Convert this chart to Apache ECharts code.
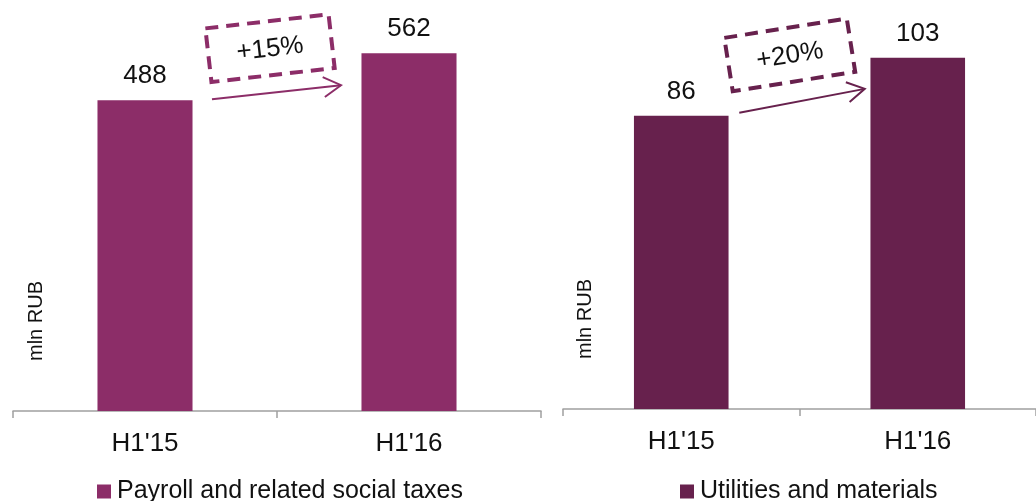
<!DOCTYPE html>
<html>
<head>
<meta charset="utf-8">
<script src="https://cdn.jsdelivr.net/npm/echarts@6/dist/echarts.min.js"></script>
<style>
  html, body { margin: 0; padding: 0; background: #fff; }
  #chart { width: 1036px; height: 501px; }
</style>
</head>
<body>
<div id="chart"></div>
<script>
// Period categories shared by both panels
const categories = ["H1'15", "H1'16"];
// Expense values, mln RUB
const payroll = [488, 562];
const utilities = [86, 103];
// Period-over-period growth tags
const growthLabels = ['+15%', '+20%'];
const seriesNames = ['Payroll and related social taxes', 'Utilities and materials'];
const unitLabel = 'mln RUB';

const FONT = '"Liberation Sans", Arial, Helvetica, sans-serif';
const TEXT = '#111';
const COLORS = ['#8c2d68', '#67214d'];
const AXIS_GRAY = '#a0a0a0';

const chart = echarts.init(document.getElementById('chart'), null, { renderer: 'canvas' });

function xAxisFor(gridIndex) {
  return {
    type: 'category', gridIndex, data: categories,
    axisLine: { show: true, lineStyle: { color: AXIS_GRAY, width: 1.5 } },
    axisTick: { show: true, length: 7, lineStyle: { color: AXIS_GRAY, width: 1.5 } },
    axisLabel: { color: TEXT, fontSize: 26, fontFamily: FONT, margin: 20 }
  };
}
function yAxisFor(gridIndex, max) {
  return {
    type: 'value', gridIndex, min: 0, max,
    show: false, splitLine: { show: false }
  };
}
function barSeries(i, data, width) {
  return {
    type: 'bar', name: seriesNames[i], data,
    xAxisIndex: i, yAxisIndex: i, barWidth: width,
    itemStyle: { color: COLORS[i] },
    label: { show: true, position: 'top', distance: 11, color: TEXT,
             fontSize: 26, fontFamily: FONT },
    emphasis: { disabled: true }
  };
}

function legendFor(i, left) {
  return {
    data: [seriesNames[i]], left, top: 474, icon: 'rect', itemWidth: 14, itemHeight: 14,
    itemGap: 6, selectedMode: false,
    textStyle: { color: TEXT, fontSize: 25, fontFamily: FONT, padding: [0, 0, 0, 1] }
  };
}

chart.setOption({
  animation: false,
  backgroundColor: '#fff',
  grid: [
    { left: 13, top: 29, width: 528, bottom: 90 },
    { left: 563, top: 34, width: 482, bottom: 92 }
  ],
  xAxis: [xAxisFor(0), xAxisFor(1)],
  yAxis: [yAxisFor(0, 600), yAxisFor(1, 110)],
  legend: [legendFor(0, 92), legendFor(1, 675)],
  series: [barSeries(0, payroll, '36%'), barSeries(1, utilities, '40%')]
});

// Growth arrows, dashed tags and unit captions, placed from the bars' pixel positions
const panelLayout = [
  { start: [67, -1], end: [-68, 32], box: [-139, -5], angle: 6.5, unitX: 23 },
  { start: [58, -3], end: [-53, 31], box: [-128, -3], angle: 9, unitX: 22 }
];

function buildAnnotations() {
  const elements = [];
  [payroll, utilities].forEach((vals, i) => {
    const L = panelLayout[i];
    const p1 = chart.convertToPixel({ seriesIndex: i }, [0, vals[0]]);
    const p2 = chart.convertToPixel({ seriesIndex: i }, [1, vals[1]]);
    const base = chart.convertToPixel({ seriesIndex: i }, [0, 0]);
    const gridLeft = p1[0] - (p2[0] - p1[0]) / 2;

    const sx = p1[0] + L.start[0], sy = p1[1] + L.start[1];
    const ex = p2[0] + L.end[0], ey = p2[1] + L.end[1];
    const ang = Math.atan2(ey - sy, ex - sx);
    const headLen = 20, spread = 30 * Math.PI / 180;
    const h1 = [ex - headLen * Math.cos(ang - spread), ey - headLen * Math.sin(ang - spread)];
    const h2 = [ex - headLen * Math.cos(ang + spread), ey - headLen * Math.sin(ang + spread)];

    elements.push({
      type: 'line', silent: true,
      shape: { x1: sx, y1: sy, x2: ex, y2: ey },
      style: { stroke: COLORS[i], lineWidth: 2 }
    });
    elements.push({
      type: 'polyline', silent: true,
      shape: { points: [h1, [ex, ey], h2] },
      style: { stroke: COLORS[i], lineWidth: 2, fill: null }
    });

    const cx = p2[0] + L.box[0], cy = p2[1] + L.box[1];
    elements.push({
      type: 'group', x: cx, y: cy, rotation: L.angle * Math.PI / 180, silent: true,
      children: [
        { type: 'rect', shape: { x: -62, y: -27, width: 124, height: 54 },
          style: { fill: null, stroke: COLORS[i], lineWidth: 4, lineDash: [13, 8] } },
        { type: 'text', x: 0, y: 1,
          style: { text: growthLabels[i], fill: TEXT, font: '26px ' + FONT,
                   align: 'center', verticalAlign: 'middle' } }
      ]
    });

    elements.push({
      type: 'text', x: gridLeft + L.unitX, y: base[1] - 90,
      rotation: Math.PI / 2, silent: true,
      style: { text: unitLabel, fill: TEXT, font: '20px ' + FONT,
               align: 'center', verticalAlign: 'middle' }
    });
  });
  chart.setOption({ graphic: elements });
}
buildAnnotations();
</script>
</body>
</html>
